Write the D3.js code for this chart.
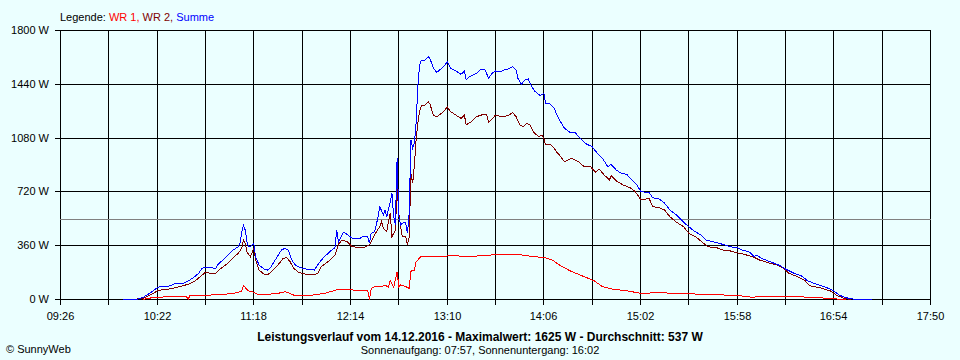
<!DOCTYPE html>
<html>
<head>
<meta charset="utf-8">
<script src="https://cdn.jsdelivr.net/npm/d3@7"></script>
<style>
  html, body { margin: 0; padding: 0; background: #EBFFFF; }
  svg { display: block; }
  text { font-family: "Liberation Sans", Arial, sans-serif; }
</style>
</head>
<body>
<svg id="chart" width="960" height="360"></svg>
<script>
// ---------- DATA ----------
const xTickLabels = ["09:26","09:54","10:22","10:50","11:18","11:46","12:14","12:42","13:10","13:38","14:06","14:34","15:02","15:30","15:58","16:26","16:54","17:22","17:50"];
const yTickValues = [0, 360, 720, 1080, 1440, 1800];
const averageW = 537;
const maximumW = 1625;
const dateLabel = "14.12.2016";
const sunrise = "07:57";
const sunset = "16:02";

const summeTimes = ["10:02","10:10","10:14","10:16","10:19","10:22","10:25","10:29","10:32","10:37","10:40","10:43","10:46","10:48","10:50","10:56","10:57","11:00","11:03","11:06","11:09","11:10","11:11","11:12","11:13","11:14","11:15","11:16","11:17","11:18","11:19","11:21","11:24","11:26","11:28","11:31","11:34","11:36","11:38","11:40","11:42","11:45","11:48","11:53","11:55","11:58","12:02","12:05","12:06","12:07","12:10","12:12","12:15","12:19","12:21","12:24","12:25","12:26","12:28","12:30","12:31","12:33","12:34","12:35","12:37","12:38","12:39","12:40","12:41","12:42","12:43","12:45","12:46","12:47","12:48","12:49","12:50","12:51","12:52","12:53","12:54","12:55","12:57","12:59","13:00","13:02","13:04","13:08","13:10","13:12","13:15","13:18","13:20","13:21","13:23","13:27","13:29","13:32","13:34","13:36","13:38","13:41","13:43","13:45","13:48","13:50","13:51","13:53","13:55","13:57","13:59","14:01","14:04","14:06","14:07","14:09","14:12","14:14","14:18","14:21","14:24","14:27","14:30","14:34","14:37","14:40","14:43","14:45","14:48","14:51","14:54","14:57","15:00","15:02","15:05","15:07","15:09","15:13","15:16","15:19","15:23","15:27","15:30","15:33","15:37","15:40","15:44","15:49","15:54","15:58","16:01","16:05","16:08","16:09","16:13","16:18","16:23","16:26","16:31","16:35","16:39","16:44","16:50","16:54","16:57","17:01","17:05","17:16"];
const summeValues = [0,0,15,30,52,79,90,90,104,108,124,146,175,209,215,209,231,264,298,331,353,376,454,494,465,387,353,353,365,376,286,231,204,197,219,276,331,343,331,264,231,213,204,197,231,276,320,347,465,387,450,436,410,405,420,420,376,443,454,554,621,565,599,554,654,711,554,500,945,560,498,520,510,443,577,1067,1012,1045,1180,1424,1569,1598,1602,1625,1614,1547,1520,1558,1591,1547,1529,1507,1529,1469,1491,1514,1536,1536,1480,1514,1529,1525,1536,1542,1558,1536,1480,1440,1469,1475,1424,1391,1364,1380,1313,1313,1279,1223,1145,1119,1119,1079,1045,1022,978,945,889,904,866,844,838,800,766,726,717,717,681,672,644,599,565,516,487,458,432,398,387,371,353,347,331,318,286,298,271,249,226,204,175,159,124,102,79,57,30,12,3,3];

const wr2Times = ["10:08","10:14","10:18","10:22","10:25","10:29","10:35","10:40","10:44","10:47","10:50","10:53","10:56","10:59","11:03","11:06","11:09","11:11","11:12","11:13","11:14","11:15","11:16","11:18","11:19","11:21","11:24","11:26","11:29","11:32","11:35","11:37","11:39","11:41","11:44","11:48","11:52","11:55","11:57","12:01","12:05","12:07","12:09","12:12","12:15","12:19","12:22","12:25","12:27","12:29","12:31","12:32","12:33","12:35","12:36","12:37","12:38","12:40","12:41","12:42","12:43","12:44","12:46","12:47","12:48","12:49","12:50","12:51","12:52","12:53","12:54","12:55","12:57","12:59","13:00","13:02","13:04","13:08","13:10","13:12","13:15","13:18","13:20","13:21","13:24","13:27","13:31","13:33","13:34","13:36","13:38","13:42","13:45","13:48","13:50","13:52","13:54","13:56","13:58","14:00","14:03","14:05","14:06","14:07","14:10","14:12","14:14","14:15","14:18","14:22","14:26","14:29","14:33","14:36","14:38","14:41","14:44","14:45","14:48","14:52","14:56","14:59","15:02","15:05","15:07","15:09","15:13","15:16","15:19","15:23","15:27","15:30","15:34","15:37","15:41","15:46","15:50","15:54","15:58","16:02","16:05","16:09","16:11","16:15","16:21","16:25","16:28","16:33","16:37","16:40","16:46","16:52","16:56","17:00","17:04"];
const wr2Values = [0,8,30,57,66,70,86,102,124,153,182,175,175,209,242,280,309,343,398,376,320,302,286,343,264,197,169,164,197,231,276,280,253,209,182,169,164,175,219,253,298,369,398,387,353,349,349,365,410,454,487,520,476,454,520,577,420,465,755,577,487,420,420,365,420,844,777,900,1067,1179,1257,1295,1301,1323,1308,1234,1223,1257,1290,1257,1234,1212,1234,1168,1190,1223,1239,1234,1186,1208,1234,1223,1230,1250,1223,1168,1156,1179,1168,1119,1090,1101,1079,1034,1034,1012,978,967,922,945,922,893,889,851,873,833,800,828,793,766,748,721,672,672,677,621,614,599,554,516,487,443,420,391,353,347,331,325,313,302,293,276,264,249,231,209,175,153,130,92,79,57,25,8,0];

const wr1Times = ["10:14","10:16","10:28","10:39","10:40","10:41","10:53","11:03","11:08","11:11","11:12","11:13","11:14","11:15","11:17","11:20","11:26","11:32","11:36","11:38","11:41","11:52","11:59","12:06","12:15","12:21","12:24","12:25","12:26","12:29","12:32","12:34","12:36","12:37","12:39","12:41","12:42","12:43","12:46","12:48","12:49","12:50","12:51","12:52","12:53","12:55","13:10","13:11","13:21","13:36","13:44","13:50","14:00","14:06","14:11","14:15","14:21","14:27","14:35","14:40","14:46","14:54","15:02","15:13","15:21","15:33","15:56","16:05","16:07","16:09","16:30","16:42","16:53","17:01"];
const wr1Values = [0,8,19,19,0,28,30,37,45,57,90,82,66,57,52,35,35,41,52,46,30,30,41,64,64,59,59,0,75,90,86,97,82,126,82,186,86,97,86,75,186,197,197,253,264,291,291,298,286,298,304,304,286,282,264,231,193,164,126,86,68,59,41,46,41,37,28,19,10,19,19,15,5,0];

// ---------- CHART ----------
const svg = d3.select("#chart");
const W = 960, H = 360;
svg.append("rect").attr("width", W).attr("height", H).attr("fill", "#EBFFFF");

const parseT = d3.timeParse("%H:%M");
const fmtT = d3.timeFormat("%H:%M");
const x = d3.scaleTime().domain([parseT("09:26"), parseT("17:50")]).range([60.5, 930.5]);
const y = d3.scaleLinear().domain([0, 1800]).range([299.5, 30.5]);
const xa = d3.scaleTime().domain(x.domain()).range([60, 930]).interpolate(d3.interpolateRound);
const ya = d3.scaleLinear().domain(y.domain()).range([299, 30]).interpolate(d3.interpolateRound);

// x gridlines + labels
const xAxis = d3.axisBottom(xa)
  .tickValues(xTickLabels.map(parseT))
  .tickSize(275)
  .tickPadding(7)
  .tickFormat((d, i) => i % 2 === 0 ? fmtT(d) : "");
const gx = svg.append("g").attr("transform", "translate(0,30)").call(xAxis);
gx.select(".domain").remove();
gx.selectAll("line").attr("stroke", "#000").attr("shape-rendering", "crispEdges");
gx.selectAll("text").attr("fill", "#000").attr("font-size", 11);

// y gridlines + labels
const yAxis = d3.axisLeft(ya)
  .tickValues(yTickValues)
  .tickSize(875)
  .tickPadding(6)
  .tickFormat(d => d + " W");
const gy = svg.append("g").attr("transform", "translate(930,0)").call(yAxis);
gy.select(".domain").remove();
gy.selectAll("line").attr("stroke", "#000").attr("shape-rendering", "crispEdges");
gy.selectAll("text").attr("fill", "#000").attr("font-size", 11);

// average line
svg.append("line")
  .attr("x1", x.range()[0] - 0.5).attr("x2", x.range()[1] + 0.5)
  .attr("y1", y(averageW)).attr("y2", y(averageW))
  .attr("stroke", "#808080").attr("shape-rendering", "crispEdges");

// series
const series = [
  { name: "WR 1", times: wr1Times, values: wr1Values, color: "#FF0000" },
  { name: "WR 2", times: wr2Times, values: wr2Values, color: "#800000" },
  { name: "Summe", times: summeTimes, values: summeValues, color: "#0000FF" }
];
const line = d3.line().x(d => x(d[0])).y(d => y(d[1]));
series.forEach(s => {
  const pts = s.times.map((t, i) => [parseT(t), s.values[i]]);
  svg.append("path")
    .datum(pts)
    .attr("d", line)
    .attr("fill", "none")
    .attr("stroke", s.color)
    .attr("stroke-width", 1)
    .attr("shape-rendering", "crispEdges");
});

// legend
const leg = svg.append("text").attr("x", 60).attr("y", 21).attr("font-size", 11);
leg.append("tspan").attr("fill", "#000").text("Legende: ");
series.forEach((s, i) => {
  leg.append("tspan").attr("fill", s.color).text(s.name + (i < series.length - 1 ? ", " : ""));
});

// bottom texts
svg.append("text").attr("x", 480).attr("y", 341).attr("text-anchor", "middle")
  .attr("font-size", 12).attr("font-weight", "bold").attr("fill", "#000")
  .text(`Leistungsverlauf vom ${dateLabel} - Maximalwert: ${maximumW} W - Durchschnitt: ${averageW} W`);
svg.append("text").attr("x", 480).attr("y", 354).attr("text-anchor", "middle")
  .attr("font-size", 11).attr("fill", "#000")
  .text(`Sonnenaufgang: ${sunrise}, Sonnenuntergang: ${sunset}`);
svg.append("text").attr("x", 6).attr("y", 353)
  .attr("font-size", 11).attr("fill", "#000")
  .text("© SunnyWeb");
</script>
</body>
</html>
